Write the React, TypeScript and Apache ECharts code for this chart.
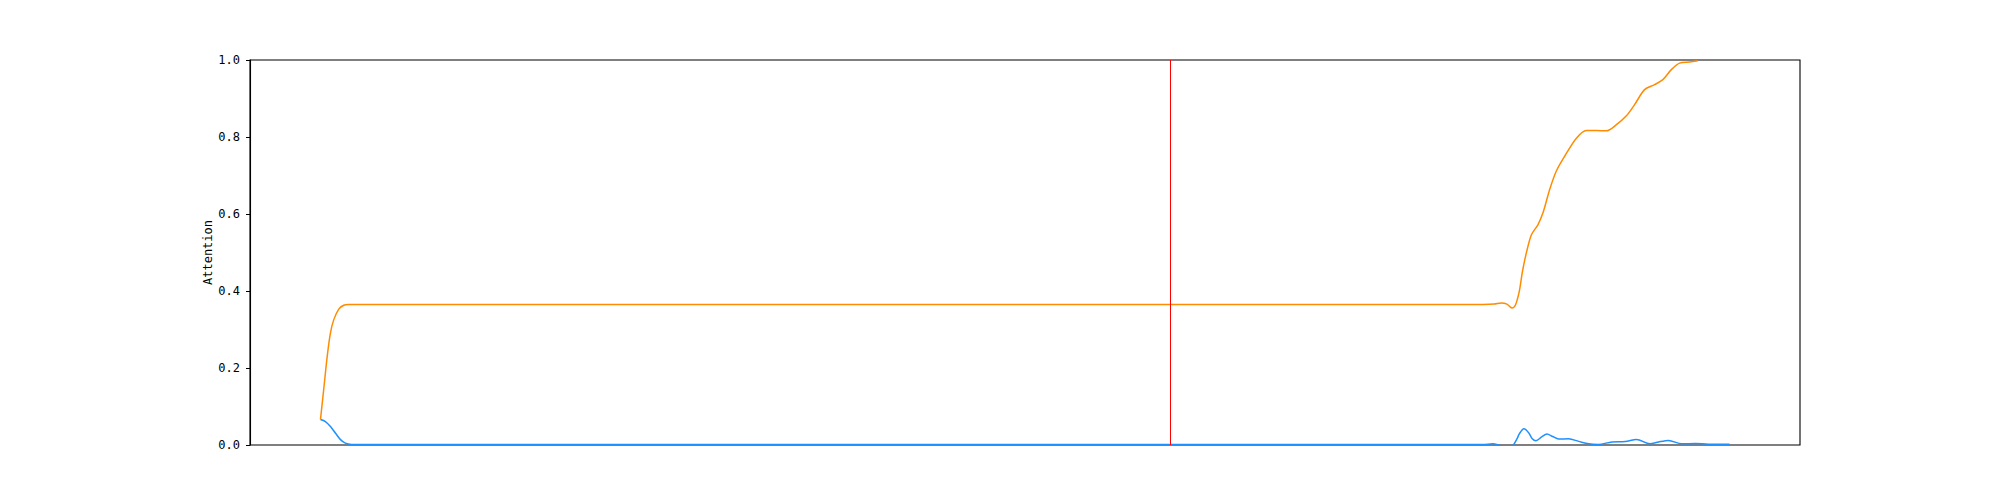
import React, { useEffect, useRef } from "react";
import * as echarts from "echarts";

// Positions (token index, 0..1000) and attention values
const orangeX = [0, 2.3, 4.8, 7.1, 9.4, 13, 16.5, 20, 40, 100, 200, 300, 400, 500, 600, 700, 800, 825, 833, 838, 842, 845.6, 847.5, 849, 851, 853, 855.8, 859.4, 864, 867.6, 872.3, 877, 883, 891.3, 898.4, 905.5, 912.6, 919.7, 926.8, 932.6, 939.7, 946.8, 952.7, 958.7, 964.5, 971.6, 977.5];
const orangeY = [0.066, 0.144, 0.23, 0.291, 0.325, 0.353, 0.363, 0.365, 0.365, 0.365, 0.365, 0.365, 0.365, 0.365, 0.365, 0.365, 0.365, 0.365, 0.366, 0.369, 0.366, 0.356, 0.36, 0.373, 0.403, 0.45, 0.499, 0.546, 0.572, 0.603, 0.663, 0.711, 0.75, 0.797, 0.817, 0.817, 0.816, 0.832, 0.855, 0.884, 0.923, 0.936, 0.949, 0.975, 0.992, 0.995, 0.998];

const blueX = [0, 3.5, 7.1, 10.6, 14.2, 17.7, 22, 30, 100, 200, 300, 400, 500, 600, 700, 800, 825, 832, 836, 840, 844, 846.5, 849, 851, 854, 857.4, 860, 862.6, 866.7, 870.4, 874.5, 878.7, 885.8, 892.9, 900, 907, 916.5, 926, 934, 943.5, 949.6, 956.7, 966, 975.7, 985, 1000];
const blueY = [0.066, 0.061, 0.048, 0.031, 0.014, 0.005, 0.0015, 0.001, 0.001, 0.001, 0.001, 0.001, 0.001, 0.001, 0.001, 0.001, 0.001, 0.003, 0.0, -0.005, -0.005, 0.0, 0.015, 0.03, 0.042, 0.032, 0.016, 0.011, 0.021, 0.0286, 0.022, 0.0156, 0.016, 0.0094, 0.003, 0.0015, 0.008, 0.009, 0.0145, 0.003, 0.008, 0.012, 0.003, 0.004, 0.002, 0.002];

const markerX = [603];
const yTicks = [0, 0.2, 0.4, 0.6, 0.8, 1.0];
const xMin = -50;
const xMax = 1050;

export default function App() {
  const ref = useRef<HTMLDivElement>(null);
  useEffect(() => {
    if (!ref.current) return;
    const chart = echarts.init(ref.current, undefined, { renderer: "svg" });
    const font = "DejaVu Sans Mono";
    chart.setOption({
      animation: false,
      backgroundColor: "#ffffff",
      grid: {
        left: 250,
        top: 60,
        width: 1550,
        height: 385,
        show: true,
        borderColor: "#000000",
        borderWidth: 1.1,
        backgroundColor: "transparent",
      },
      xAxis: {
        type: "value",
        min: xMin,
        max: xMax,
        axisLine: { show: false },
        axisTick: { show: false },
        axisLabel: { show: false },
        splitLine: { show: false },
      },
      yAxis: {
        type: "value",
        min: yTicks[0],
        max: yTicks[yTicks.length - 1],
        interval: 0.2,
        name: "Attention",
        nameLocation: "middle",
        nameGap: 36,
        nameMoveOverlap: false,
        nameTextStyle: { fontFamily: font, fontSize: 12, color: "#000" },
        axisLine: { show: true, onZero: false, lineStyle: { color: "#000", width: 1.1 } },
        axisTick: { show: true, inside: false, length: 4, lineStyle: { color: "#000", width: 1 } },
        axisLabel: {
          margin: 10,
          fontFamily: font,
          fontSize: 12,
          color: "#000",
          formatter: (v: number) => v.toFixed(1),
        },
        splitLine: { show: false },
      },
      series: [
        {
          type: "line",
          data: blueX.map((x, i) => [x, blueY[i]]),
          showSymbol: false,
          smooth: 0.3,
          clip: true,
          lineStyle: { color: "#1e90ff", width: 1.5 },
          itemStyle: { color: "#1e90ff" },
          z: 2,
        },
        {
          type: "line",
          data: orangeX.map((x, i) => [x, orangeY[i]]),
          showSymbol: false,
          smooth: 0.3,
          clip: true,
          lineStyle: { color: "#ff8c00", width: 1.5 },
          itemStyle: { color: "#ff8c00" },
          z: 3,
          markLine: {
            silent: true,
            symbol: "none",
            label: { show: false },
            lineStyle: { color: "#ff0000", width: 1, type: "solid" },
            data: markerX.map((x) => ({ xAxis: x })),
          },
        },
      ],
    });
    return () => chart.dispose();
  }, []);
  return (
    <div
      ref={ref}
      style={{ position: "fixed", left: 0, top: 0, width: 2000, height: 500 }}
    />
  );
}
